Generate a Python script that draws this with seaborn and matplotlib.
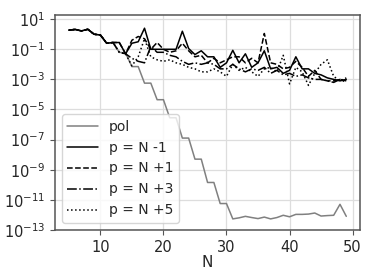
import numpy as np
import pandas as pd
import seaborn as sns
import matplotlib
matplotlib.use("Agg")
import matplotlib.pyplot as plt

# polynomial degree N
N = list(range(5, 50))

# log10 of the error
pol_exp = [0.27, 0.32, 0.22, 0.33, 0.0, -0.05, -0.6, -0.55, -1.2, -1.25,
           -2.15, -2.15, -3.25, -3.25, -4.35, -4.35, -5.55, -5.55, -6.9, -6.9,
           -8.3, -8.3, -9.85, -9.85, -11.25, -11.25, -12.27, -12.2, -12.1, -12.18,
           -12.25, -12.15, -12.27, -12.18, -12.03, -12.13, -11.97, -11.97, -11.95, -11.88,
           -12.08, -12.05, -12.03, -11.3, -12.1]
pm1_exp = [0.27, 0.32, 0.22, 0.33, 0.0, -0.05, -0.6, -0.55, -0.55, -1.3,
           -0.6, -0.5, 0.4, -1.0, -1.0, -1.0, -1.0, -1.0, 0.2, -0.95,
           -1.35, -1.1, -1.5, -1.5, -2.2, -1.9, -1.07, -1.9, -1.3, -2.2,
           -1.9, -1.1, -2.3, -2.2, -2.6, -2.4, -1.5, -2.3, -2.3, -2.6,
           -2.7, -2.9, -3.0, -3.1, -3.0]
pp1_exp = [0.27, 0.32, 0.22, 0.33, 0.0, -0.05, -0.6, -0.55, -0.55, -1.3,
           -0.4, -0.15, -0.3, -1.0, -0.55, -1.0, -1.2, -1.1, -0.6, -1.1,
           -1.5, -1.4, -1.9, -1.6, -1.9, -1.7, -1.5, -1.5, -1.9, -1.6,
           -1.9, 0.05, -1.9, -2.0, -2.3, -2.2, -1.8, -2.2, -2.8, -2.4,
           -3.0, -3.1, -3.1, -3.0, -3.1]
pp3_exp = [0.27, 0.32, 0.22, 0.33, 0.0, -0.05, -0.6, -0.55, -1.2, -1.3,
           -1.6, -1.8, -1.9, -0.8, -1.2, -1.2, -1.4, -1.5, -1.8, -2.0,
           -1.9, -2.0, -1.9, -2.0, -2.3, -2.3, -2.0, -2.3, -2.5, -2.3,
           -2.4, -2.2, -2.6, -2.4, -2.7, -2.6, -2.8, -2.7, -2.9, -3.0,
           -3.0, -3.1, -3.2, -3.0, -3.2]
pp5_exp = [0.27, 0.32, 0.22, 0.33, 0.0, -0.05, -0.6, -0.55, -1.2, -1.3,
           -2.1, -1.5, -0.3, -1.5, -1.7, -1.8, -1.7, -1.9, -2.0, -2.2,
           -2.3, -2.5, -2.5, -2.3, -2.5, -2.8, -2.0, -2.4, -2.2, -2.5,
           -2.8, -2.3, -2.2, -2.5, -1.4, -3.3, -2.2, -2.5, -3.4, -2.6,
           -2.0, -1.7, -2.8, -3.1, -2.9]

labels = ["pol", "p = N -1", "p = N +1", "p = N +3", "p = N +5"]

sns.set_style("ticks")
plt.rcParams['font.family'] = ['DejaVu Sans']
plt.rcParams['font.size'] = 10
plt.rcParams['axes.unicode_minus'] = False

fig, ax = plt.subplots(figsize=(3.74, 2.8), dpi=100)
fig.subplots_adjust(left=0.147, right=0.963, top=0.946, bottom=0.179)

series = [pol_exp, pm1_exp, pp1_exp, pp3_exp, pp5_exp]
colors = ["gray", "black", "black", "black", "black"]
styles = ["-", "-", "--", "-.", ":"]
for exps, lab, col, ls in zip(series, labels, colors, styles):
    df = pd.DataFrame({"N": N, "err": 10.0 ** np.array(exps)})
    sns.lineplot(data=df, x="N", y="err", ax=ax, color=col, linestyle=ls,
                 linewidth=1.1, label=lab)

ax.set_yscale("log")
ax.set_ylim(1e-13, 10 ** 1.27)
ax.set_yticks([10.0 ** e for e in range(1, -14, -2)])
ax.minorticks_off()
ax.set_xticks([10, 20, 30, 40, 50])
ax.tick_params(labelsize=10.5, color="#555555")
ax.grid(True, color="#dddddd", linewidth=0.9)
ax.set_xlabel("N", fontsize=11, labelpad=0)
ax.set_ylabel("")
for s in ax.spines.values():
    s.set_color("#555555")
    s.set_linewidth(1.1)
ax.legend(loc="lower left", fontsize=10, handlelength=2.2)

fig.savefig("out.png", dpi=100)
